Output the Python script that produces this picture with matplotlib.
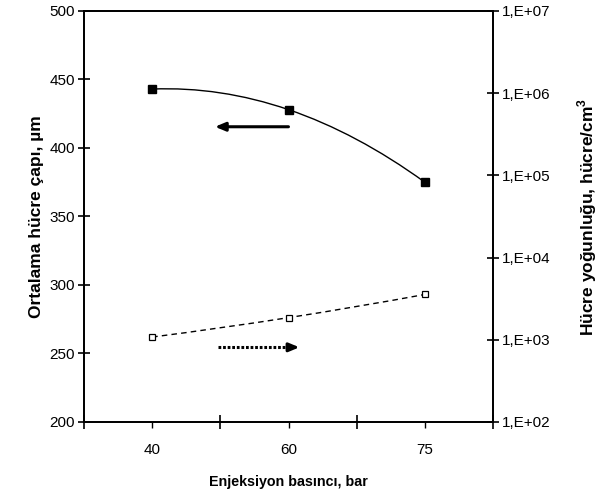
import numpy as np
import matplotlib
matplotlib.use("Agg")
import matplotlib.pyplot as plt
from matplotlib.path import Path
from matplotlib.patches import PathPatch
from matplotlib.ticker import FixedLocator, FuncFormatter, LogLocator, NullLocator

plt.rcParams['font.family'] = ['Liberation Sans', 'DejaVu Sans']

# data
pressure = ['40', '60', '75']
cell_size = [443, 428, 375]          # µm, left axis
cell_density = [1.08e3, 1.86e3, 3.56e3]  # hücre/cm3, right axis


def smooth_path(xs, ys):
    # cubic bezier through the points (Excel-like smoothed line)
    p = np.column_stack([xs, ys]).astype(float)
    n = len(p)
    t = np.zeros_like(p)
    for i in range(1, n - 1):
        t[i] = (p[i + 1] - p[i - 1]) / 2
    t[0] = 2 * (p[1] - p[0]) - t[1]
    t[-1] = 2 * (p[-1] - p[-2]) - t[-2]
    verts = [p[0]]
    codes = [Path.MOVETO]
    for i in range(n - 1):
        verts += [p[i] + t[i] / 3, p[i + 1] - t[i + 1] / 3, p[i + 1]]
        codes += [Path.CURVE4] * 3
    return np.array(verts), codes


fig = plt.figure(figsize=(6, 4.95), dpi=100)
ax = fig.add_axes([0.14, 0.1475, 0.6817, 0.8303])
ax2 = ax.twinx()

x = np.arange(len(pressure))

# left series: solid smoothed line, filled squares
v, c = smooth_path(x, cell_size)
ax.add_patch(PathPatch(Path(v, c), fill=False, lw=1.0, ec='black'))
ax.plot(x, cell_size, ls='none', marker='s', ms=6, mfc='black', mec='black')

# right series: dashed smoothed line, open squares (log scale)
ax2.set_yscale('log')
v, c = smooth_path(x, np.log10(cell_density))
v[:, 1] = 10 ** v[:, 1]
ax2.add_patch(PathPatch(Path(v, c), fill=False, lw=1.0, ec='black', ls=(0, (4, 3))))
ax2.plot(x, cell_density, ls='none', marker='s', ms=5, mfc='white', mec='black', mew=0.9)

ax.set_xlim(-0.5, 2.5)
ax.set_ylim(200, 500)
ax2.set_ylim(1e2, 1e7)

# x axis: labels at categories, long ticks on the boundaries
ax.xaxis.set_major_locator(FixedLocator([-0.5, 0.5, 1.5, 2.5]))
ax.xaxis.set_minor_locator(FixedLocator(x))
ax.xaxis.set_major_formatter(FuncFormatter(lambda v, p: ''))
ax.xaxis.set_minor_formatter(FuncFormatter(lambda v, p: pressure[int(round(v))]))
ax.tick_params(axis='x', which='major', direction='inout', length=10, width=1.2)
ax.tick_params(axis='x', which='minor', direction='out', length=4, width=1.0, labelsize=11, pad=11)

ax.set_yticks(np.arange(200, 501, 50))
ax.tick_params(axis='y', direction='inout', length=9, width=1.2, labelsize=11, pad=2)

ax2.yaxis.set_major_locator(LogLocator(base=10, numticks=10))
ax2.yaxis.set_minor_locator(NullLocator())
ax2.yaxis.set_major_formatter(FuncFormatter(lambda v, p: '1,E+%02d' % int(round(np.log10(v)))))
ax2.tick_params(axis='y', direction='inout', length=9, width=1.2, labelsize=11, pad=2)

for a in (ax, ax2):
    for s in a.spines.values():
        s.set_linewidth(1.3)

ax.set_xlabel('Enjeksiyon basıncı, bar', fontsize=10.3, fontweight='bold', labelpad=13)
ax.set_ylabel('Ortalama hücre çapı, µm', fontsize=12.5, fontweight='bold', labelpad=4)
ax2.set_ylabel('Hücre yoğunluğu, hücre/cm$^{\\mathregular{3}}$', fontsize=12.5,
               fontweight='bold', labelpad=18)

# direction arrows
ax.annotate('', xy=(0.44, 415.5), xytext=(1.02, 415.5),
            arrowprops=dict(arrowstyle='-|>,head_length=0.6,head_width=0.25', lw=2.2, color='black'))
ax.plot([0.48, 1.01], [254.5, 254.5], color='black', lw=2.2, ls=(0, (0.9, 0.6)))
ax.annotate('', xy=(1.08, 254.5), xytext=(1.0, 254.5),
            arrowprops=dict(arrowstyle='-|>,head_length=0.6,head_width=0.25', lw=2.2,
                            color='black', shrinkA=0, shrinkB=0))

fig.savefig('out.png', dpi=100)
